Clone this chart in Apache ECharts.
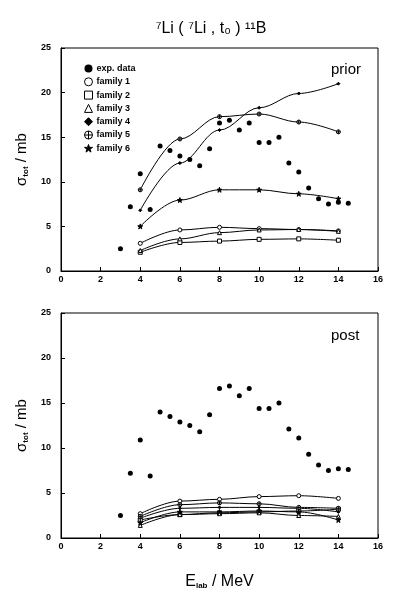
<!DOCTYPE html>
<html style="height: 100%">
<head>
<meta charset="utf-8">
</head>
<body style="height: 100%; margin: 0; background: #fff">
<div id="container" style="height: 592px; width: 399px"></div>
<script type="text/javascript" src="https://cdn.jsdelivr.net/npm/echarts/dist/echarts.min.js"></script>
<script type="text/javascript">
// experimental points (same in both panels)
var expEnergy = [3, 3.5, 4, 4.5, 5, 5.5, 6, 6.5, 7, 7.5, 8, 8.5, 9, 9.5, 10, 10.5, 11, 11.5, 12, 12.5, 13, 13.5, 14, 14.5];
var expSigma  = [2.5, 7.2, 10.9, 6.9, 14.0, 13.5, 12.9, 12.5, 11.8, 13.7, 16.6, 16.9, 15.8, 16.6, 14.4, 14.4, 15.0, 12.1, 11.1, 9.3, 8.1, 7.5, 7.7, 7.6];

// calculated families
var famEnergy = [4, 6, 8, 10, 12, 14];
var familyNames = ['family 1', 'family 2', 'family 3', 'family 4', 'family 5', 'family 6'];

var prior = [
    [3.1, 4.6, 4.9, 4.75, 4.65, 4.5],
    [2.1, 3.2, 3.35, 3.55, 3.6, 3.45],
    [2.3, 3.6, 4.3, 4.6, 4.65, 4.45],
    [6.8, 12.1, 15.8, 18.3, 19.9, 21.0],
    [9.1, 14.8, 17.3, 17.6, 16.7, 15.6],
    [5.0, 7.95, 9.1, 9.1, 8.65, 8.1]
];
var post = [
    [2.7, 4.1, 4.3, 4.6, 4.7, 4.4],
    [2.0, 2.6, 2.8, 2.9, 3.0, 3.2],
    [1.4, 2.6, 2.7, 2.8, 2.5, 2.4],
    [2.2, 3.3, 3.4, 3.4, 3.3, 2.9],
    [2.4, 3.7, 3.9, 3.8, 3.4, 3.3],
    [1.7, 2.9, 2.9, 3.0, 2.9, 2.0]
];

var crossCircle = 'path://M0,5A5,5 0 1,0 10,5A5,5 0 1,0 0,5ZM5,0L5,10M0,5L10,5';
var star = 'path://M5,0L6.2,3.6L10,3.6L6.9,5.8L8.1,9.5L5,7.2L1.9,9.5L3.1,5.8L0,3.6L3.8,3.6Z';
var famSymbols = ['circle', 'rect', 'triangle', 'diamond', crossCircle, star];
var famFill = ['#fff', '#fff', '#fff', '#000', '#fff', '#000'];
var famSize = [4, 4, 4, 3, 4, 5];

var font = 'Liberation Sans, Arial, sans-serif';

function pairs(xs, ys) {
    var out = [];
    for (var i = 0; i < xs.length; i++) out.push([xs[i], ys[i]]);
    return out;
}

var series = [];
[prior, post].forEach(function (set, g) {
    series.push({
        name: 'exp. data', type: 'scatter', xAxisIndex: g, yAxisIndex: g,
        symbol: 'circle', symbolSize: 5,
        itemStyle: {color: '#000', opacity: 1},
        data: pairs(expEnergy, expSigma), z: 3
    });
    set.forEach(function (vals, k) {
        series.push({
            name: familyNames[k], type: 'line', xAxisIndex: g, yAxisIndex: g,
            smooth: 0.35, smoothMonotone: 'x',
            symbol: famSymbols[k], symbolSize: famSize[k],
            lineStyle: {color: '#000', width: 1},
            itemStyle: {color: famFill[k], borderColor: '#000', borderWidth: 1},
            data: pairs(famEnergy, vals)
        });
    });
});

var legendData = [{name: 'exp. data', icon: 'circle', itemStyle: {color: '#000', opacity: 1}}];
familyNames.forEach(function (n, k) {
    legendData.push({name: n, icon: famSymbols[k],
        itemStyle: {color: famFill[k], borderColor: '#000', borderWidth: 1}});
});

function xAx(g, withName) {
    return {
        type: 'value', gridIndex: g, min: 0, max: 16, interval: 2,
        axisLine: {lineStyle: {color: '#000', width: 1}},
        axisTick: {inside: true, length: 4, lineStyle: {color: '#000'}},
        axisLabel: {color: '#000', fontSize: 9, fontWeight: 'bold', fontFamily: font, margin: 4},
        splitLine: {show: false},
        name: withName ? '{n|E}{s|lab}{n| / MeV}' : '',
        nameLocation: 'middle', nameGap: 36,
        nameTextStyle: {rich: {
            n: {fontSize: 16, fontFamily: font, color: '#000'},
            s: {fontSize: 8, fontFamily: font, color: '#000', fontWeight: 'bold', padding: [8, 0, 0, 0]}
        }}
    };
}
function yAx(g) {
    return {
        type: 'value', gridIndex: g, min: 0, max: 25, interval: 5,
        axisLine: {show: true, lineStyle: {color: '#000', width: 1}},
        axisTick: {show: true, inside: true, length: 4, lineStyle: {color: '#000'}},
        axisLabel: {color: '#000', fontSize: 9, fontWeight: 'bold', fontFamily: font, margin: 10},
        splitLine: {show: false},
        name: '{n|σ}{s|tot}{n| / mb}',
        nameLocation: 'middle', nameGap: 30, nameRotate: 90,
        nameTextStyle: {rich: {
            n: {fontSize: 15, fontFamily: font, color: '#000'},
            s: {fontSize: 8, fontFamily: font, color: '#000', fontWeight: 'bold', padding: [8, 0, 0, 0]}
        }}
    };
}

var myChart = echarts.init(document.getElementById('container'));
var option = {
    backgroundColor: '#fff',
    animation: false,
    title: {
        text: '⁷Li ( ⁷Li , t₀ ) ¹¹B',
        left: 206, top: 16, textAlign: 'center',
        textStyle: {fontSize: 16, fontWeight: 'normal', fontFamily: font, color: '#000'}
    },
    legend: {
        orient: 'vertical', left: 79, top: 59, itemGap: 4.3,
        itemWidth: 8, itemHeight: 8,
        textStyle: {fontSize: 9, fontWeight: 'bold', fontFamily: font, color: '#000', padding: [0, 0, 0, -1]},
        data: legendData
    },
    grid: [
        {left: 61, right: 21, top: 48, height: 223, show: true, borderColor: '#000', borderWidth: 1},
        {left: 61, right: 21, top: 313, height: 225, show: true, borderColor: '#000', borderWidth: 1}
    ],
    xAxis: [xAx(0, false), xAx(1, true)],
    yAxis: [yAx(0), yAx(1)],
    graphic: [
        {type: 'text', left: 331, top: 62, style: {text: 'prior', fontSize: 15, fontFamily: font, fill: '#000'}},
        {type: 'text', left: 331, top: 328, style: {text: 'post', fontSize: 15, fontFamily: font, fill: '#000'}}
    ],
    series: series
};
myChart.setOption(option);
</script>
</body>
</html>
